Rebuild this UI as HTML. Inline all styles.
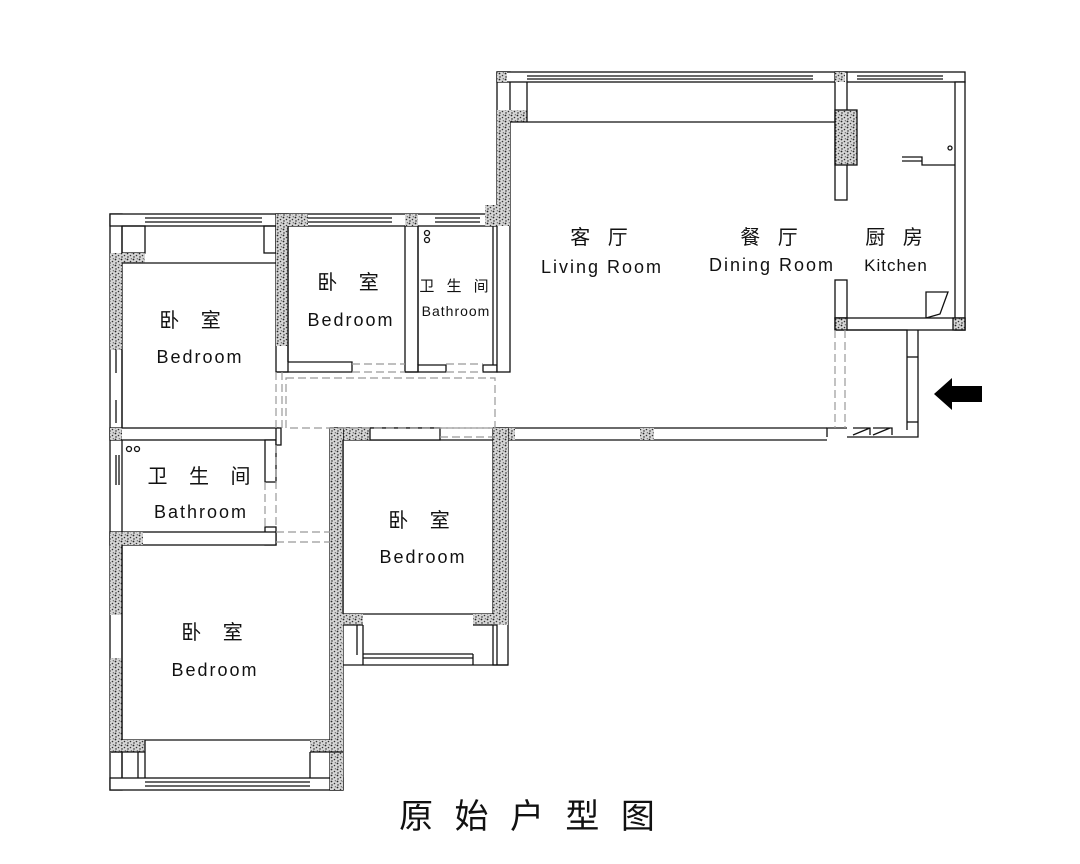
<!DOCTYPE html>
<html><head><meta charset="utf-8"><style>
html,body{margin:0;padding:0;background:#fff;width:1080px;height:864px;overflow:hidden}
svg{display:block}
text{font-family:"Liberation Sans","Noto Sans CJK SC",sans-serif;fill:#111}
</style></head><body>
<svg width="1080" height="864" viewBox="0 0 1080 864" xmlns="http://www.w3.org/2000/svg">
<defs>
<pattern id="st" width="6" height="6" patternUnits="userSpaceOnUse">
<rect width="6" height="6" fill="#d6d6d6"/>
<circle cx="1.5" cy="1.5" r="0.9" fill="#222"/><circle cx="4.5" cy="3.5" r="0.8" fill="#333"/><circle cx="2" cy="5" r="0.7" fill="#111"/><circle cx="5.3" cy="0.8" r="0.6" fill="#444"/>
</pattern>
</defs>
<g fill="none" stroke="#111" stroke-width="1.3">
<rect x="110" y="214" width="12" height="576" fill="#fff"/>
<rect x="110" y="214" width="387" height="12" fill="#fff"/>
<rect x="110" y="778" width="233" height="12" fill="#fff"/>
<line x1="145" y1="218" x2="262" y2="218"/><line x1="145" y1="222" x2="262" y2="222"/>
<line x1="308" y1="218" x2="392" y2="218"/><line x1="308" y1="222" x2="392" y2="222"/>
<line x1="435" y1="218" x2="480" y2="218"/><line x1="435" y1="222" x2="480" y2="222"/>
<rect x="122" y="226" width="23" height="27"/>
<rect x="264" y="226" width="12" height="27"/>
<rect x="110" y="253" width="35" height="10" fill="url(#st)" stroke="none"/>
<rect x="110" y="253" width="12" height="97" fill="url(#st)" stroke="none"/>
<line x1="122" y1="263" x2="276" y2="263"/>
<line x1="122" y1="350" x2="122" y2="428"/>
<line x1="116" y1="350" x2="116" y2="373"/><line x1="116" y1="400" x2="116" y2="423"/>
<rect x="276" y="214" width="12" height="158" fill="#fff"/>
<rect x="276" y="226" width="12" height="120" fill="url(#st)" stroke="none"/>
<rect x="276" y="214" width="32" height="12" fill="url(#st)" stroke="none"/>
<line x1="288" y1="226" x2="288" y2="362"/>
<polyline points="288,362 352,362 352,372 276,372"/>
<rect x="405" y="226" width="13" height="146" fill="#fff"/>
<rect x="405" y="214" width="13" height="12" fill="url(#st)" stroke="none"/>
<polyline points="405,372 418,372 418,365 446,365 446,372 405,372"/>
<line x1="418" y1="226" x2="418" y2="365"/>
<rect x="483" y="365" width="14" height="7" fill="#fff"/>
<rect x="497" y="72" width="13" height="300" fill="#fff"/>
<rect x="497" y="110" width="13" height="105" fill="url(#st)" stroke="none"/>
<rect x="497" y="110" width="30" height="12" fill="url(#st)" stroke="none"/>
<rect x="485" y="205" width="25" height="21" fill="url(#st)" stroke="none"/>
<line x1="493" y1="226" x2="493" y2="365"/>
<rect x="497" y="72" width="468" height="10" fill="#fff"/>
<rect x="497" y="72" width="10" height="10" fill="url(#st)" stroke="none"/>
<line x1="527" y1="76" x2="813" y2="76"/><line x1="527" y1="79" x2="813" y2="79"/>
<line x1="857" y1="76" x2="943" y2="76"/><line x1="857" y1="79" x2="943" y2="79"/>
<line x1="510" y1="122" x2="835" y2="122"/>
<line x1="527" y1="82" x2="527" y2="122"/>
<rect x="835" y="72" width="12" height="128" fill="#fff"/>
<rect x="835" y="110" width="22" height="55" fill="url(#st)" stroke="#111"/>
<rect x="835" y="72" width="10" height="10" fill="url(#st)" stroke="none"/>
<rect x="835" y="280" width="12" height="38" fill="#fff"/>
<rect x="955" y="82" width="10" height="248" fill="#fff"/>
<polyline points="902,157 922,157 922,165 955,165"/>
<line x1="902" y1="161" x2="922" y2="161"/>
<circle cx="950" cy="148" r="2"/>
<polygon points="926,292 948,292 940,314 926,318" fill="#fff"/>
<rect x="835" y="318" width="130" height="12" fill="#fff"/>
<rect x="835" y="318" width="12" height="12" fill="url(#st)"/>
<rect x="953" y="318" width="12" height="12" fill="url(#st)"/>
<polyline points="847,330 907,330 907,430"/>
<polyline points="918,330 918,437 847,437"/>
<line x1="907" y1="357" x2="918" y2="357"/><line x1="907" y1="422" x2="918" y2="422"/>
<path d="M853 435 L870 428 M873 435 L890 428 M853 428 H870 V435 M873 428 H892 V435"/>
<polyline points="827,437 827,428 835,428 847,428"/>
<polyline points="343,440 827,440"/>
<line x1="330" y1="428" x2="440" y2="428"/>
<line x1="493" y1="428" x2="827" y2="428"/>
<rect x="330" y="428" width="40" height="12" fill="url(#st)" stroke="none"/>
<rect x="370" y="428" width="70" height="12" fill="#fff"/>
<rect x="493" y="428" width="22" height="12" fill="url(#st)" stroke="none"/>
<rect x="640" y="428" width="14" height="12" fill="url(#st)" stroke="none"/>
<rect x="110" y="428" width="168" height="12" fill="#fff"/>
<rect x="110" y="428" width="12" height="12" fill="url(#st)" stroke="none"/>
<rect x="265" y="440" width="11" height="42" fill="#fff"/>
<rect x="276" y="428" width="5" height="17" fill="#fff"/>
<rect x="265" y="527" width="11" height="18" fill="#fff"/>
<rect x="110" y="532" width="166" height="13" fill="#fff"/>
<rect x="110" y="532" width="33" height="13" fill="url(#st)" stroke="none"/>
<line x1="116" y1="455" x2="116" y2="485"/><line x1="119" y1="455" x2="119" y2="485"/>
<circle cx="129" cy="449" r="2.5"/><circle cx="137" cy="449" r="2.5"/>
<circle cx="427" cy="233" r="2.5"/><circle cx="427" cy="240" r="2.5"/>
<rect x="110" y="545" width="12" height="70" fill="url(#st)" stroke="none"/>
<rect x="110" y="658" width="12" height="95" fill="url(#st)" stroke="none"/>
<line x1="122" y1="545" x2="122" y2="752"/>
<rect x="330" y="428" width="13" height="362" fill="#fff"/>
<rect x="330" y="428" width="13" height="190" fill="url(#st)" stroke="none"/>
<rect x="330" y="618" width="13" height="172" fill="url(#st)" stroke="none"/>
<line x1="122" y1="740" x2="330" y2="740"/>
<rect x="110" y="740" width="35" height="12" fill="url(#st)" stroke="none"/>
<rect x="310" y="740" width="20" height="12" fill="url(#st)" stroke="none"/>
<line x1="110" y1="752" x2="145" y2="752"/><line x1="310" y1="752" x2="343" y2="752"/>
<line x1="145" y1="740" x2="145" y2="778"/><line x1="310" y1="752" x2="310" y2="778"/>
<line x1="122" y1="752" x2="122" y2="778"/><line x1="138" y1="752" x2="138" y2="778"/>
<line x1="145" y1="782" x2="310" y2="782"/><line x1="145" y1="786" x2="310" y2="786"/>
<line x1="343" y1="440" x2="343" y2="614"/>
<rect x="493" y="428" width="15" height="237" fill="#fff"/>
<rect x="493" y="428" width="15" height="197" fill="url(#st)" stroke="none"/>
<polyline points="343,614 493,614"/>
<rect x="343" y="614" width="20" height="11" fill="url(#st)" stroke="none"/>
<rect x="473" y="614" width="20" height="11" fill="url(#st)" stroke="none"/>
<line x1="343" y1="625" x2="363" y2="625"/><line x1="473" y1="625" x2="497" y2="625"/>
<line x1="363" y1="625" x2="363" y2="665"/><line x1="357" y1="625" x2="357" y2="655"/>
<line x1="497" y1="625" x2="497" y2="665"/>
<line x1="343" y1="665" x2="508" y2="665"/>
<line x1="363" y1="654" x2="473" y2="654"/><line x1="363" y1="658" x2="473" y2="658"/>
<line x1="473" y1="654" x2="473" y2="665"/>
</g>
<g fill="none" stroke="#999" stroke-width="1.2" stroke-dasharray="8,4">
<rect x="286" y="378" width="209" height="50"/>
<line x1="276" y1="372" x2="276" y2="428"/><line x1="282" y1="372" x2="282" y2="428"/>
<line x1="352" y1="364" x2="405" y2="364"/><line x1="352" y1="372" x2="405" y2="372"/>
<line x1="446" y1="364" x2="483" y2="364"/><line x1="446" y1="372" x2="483" y2="372"/>
<line x1="440" y1="428" x2="493" y2="428"/><line x1="440" y1="437" x2="493" y2="437"/>
<line x1="265" y1="482" x2="265" y2="527"/><line x1="276" y1="445" x2="276" y2="527"/>
<line x1="276" y1="532" x2="330" y2="532"/><line x1="276" y1="542" x2="330" y2="542"/>
<line x1="835" y1="330" x2="835" y2="428"/><line x1="845" y1="330" x2="845" y2="428"/>
</g>
<polygon points="934,394 952,378 952,386 982,386 982,402 952,402 952,410" fill="#000"/>
<g text-anchor="middle" font-size="20">
<text x="194" y="327" letter-spacing="8">卧 室</text>
<text x="200" y="363" font-size="18" letter-spacing="2">Bedroom</text>
<text x="352" y="289" letter-spacing="8">卧 室</text>
<text x="351" y="326" font-size="18" letter-spacing="2">Bedroom</text>
<text x="456" y="291" font-size="15" letter-spacing="4">卫 生 间</text>
<text x="456" y="316" font-size="14" letter-spacing="1">Bathroom</text>
<text x="602" y="244" letter-spacing="6">客 厅</text>
<text x="602" y="273" font-size="18" letter-spacing="2">Living Room</text>
<text x="772" y="244" letter-spacing="6">餐 厅</text>
<text x="772" y="271" font-size="18" letter-spacing="2">Dining Room</text>
<text x="897" y="244" letter-spacing="6">厨 房</text>
<text x="896" y="271" font-size="17" letter-spacing="1">Kitchen</text>
<text x="203" y="483" letter-spacing="8">卫 生 间</text>
<text x="201" y="518" font-size="18" letter-spacing="2">Bathroom</text>
<text x="423" y="527" letter-spacing="8">卧 室</text>
<text x="423" y="563" font-size="18" letter-spacing="2">Bedroom</text>
<text x="216" y="639" letter-spacing="8">卧 室</text>
<text x="215" y="676" font-size="18" letter-spacing="2">Bedroom</text>
<text x="530" y="828" font-size="34" letter-spacing="6">原 始 户 型 图</text>
</g>
</svg>
</body></html>
